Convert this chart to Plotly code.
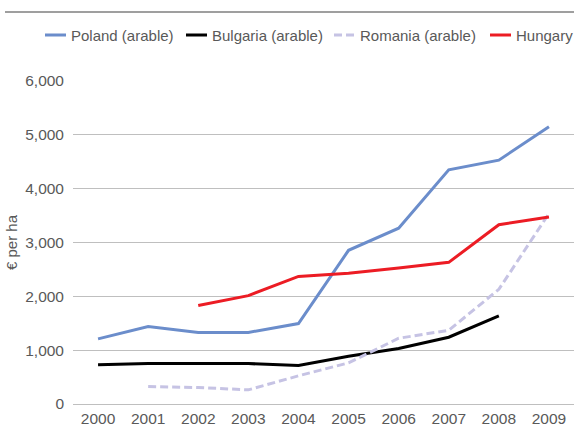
import plotly.graph_objects as go

years = ["2000", "2001", "2002", "2003", "2004", "2005", "2006", "2007", "2008", "2009"]
poland = [1210, 1440, 1330, 1330, 1495, 2855, 3265, 4350, 4530, 5150]
bulgaria = [727, 751, 751, 751, 714, 887, 1030, 1240, 1636, None]
romania = [None, 325, 306, 263, 523, 764, 1221, 1369, 2130, 3540]
hungary = [None, None, 1830, 2013, 2370, 2430, 2527, 2631, 3330, 3473]

series_names = ["Poland (arable)", "Bulgaria (arable)", "Romania (arable)", "Hungary"]
series_colors = ["#6b8dcb", "#000000", "#c6c3e4", "#ec1c24"]
series_dash = ["solid", "solid", "8px,4px", "solid"]

y_ticks = [0, 1000, 2000, 3000, 4000, 5000, 6000]
y_ticktext = ["0", "1,000", "2,000", "3,000", "4,000", "5,000", "6,000"]

FONT = "Liberation Sans, Arial, sans-serif"
GRAY = "#595959"

W, H = 574, 425
ML, MR, MT, MB = 73, 0, 81, 21
PW, PH = W - ML - MR, H - MT - MB


def px_x(px):
    return (px - ML) / PW


def px_y(py):
    return (H - MB - py) / PH


fig = go.Figure()
for name, vals, col, dash in zip(series_names, [poland, bulgaria, romania, hungary],
                                 series_colors, series_dash):
    fig.add_trace(go.Scatter(x=years, y=vals, name=name, mode="lines",
                             line=dict(color=col, width=3, dash=dash)))

# Legend (drawn to match reference's short line samples)
legend_line_x = [45, 186, 334, 490]
legend_y = 35
shapes = [dict(type="line", xref="paper", yref="paper",
               x0=px_x(5), x1=1.0, y0=px_y(12), y1=px_y(12),
               line=dict(color="#7f7f7f", width=1.5))]
annotations = []
for lx, name, col, dash in zip(legend_line_x, series_names, series_colors, series_dash):
    shapes.append(dict(type="line", xref="paper", yref="paper",
                       x0=px_x(lx), x1=px_x(lx + 21), y0=px_y(legend_y), y1=px_y(legend_y),
                       line=dict(color=col, width=3, dash=dash)))
    annotations.append(dict(text=name, xref="paper", yref="paper",
                            x=px_x(lx + 26), y=px_y(legend_y + 0.5),
                            xanchor="left", yanchor="middle", showarrow=False,
                            borderpad=0, borderwidth=0,
                            font=dict(family=FONT, size=15, color=GRAY)))

fig.update_layout(
    width=W, height=H,
    margin=dict(l=ML, r=MR, t=MT, b=MB, autoexpand=False),
    paper_bgcolor="white", plot_bgcolor="white",
    font=dict(family=FONT, size=15, color=GRAY),
    showlegend=False,
    xaxis=dict(type="category", range=[-0.5, 9.5], showgrid=False,
               showline=False, zeroline=False, ticks="", automargin=False,
               ticklabelstandoff=3,
               tickfont=dict(size=15.5, color=GRAY), fixedrange=True),
    yaxis=dict(range=[0, 6000], tickvals=y_ticks, ticktext=y_ticktext,
               showgrid=True, gridcolor="#bfbfbf", gridwidth=1,
               zeroline=True, zerolinecolor="#bfbfbf", zerolinewidth=1,
               showline=False, ticks="", automargin=False,
               ticklabelstandoff=8,
               tickfont=dict(size=15.5, color=GRAY),
               title=dict(text="€ per ha", font=dict(size=15, color=GRAY), standoff=3),
               fixedrange=True),
    shapes=shapes,
    annotations=annotations,
)

fig.write_html("out.html",
               config={"displayModeBar": False},
               post_script="document.body.style.margin='0';document.body.style.overflow='hidden';")
